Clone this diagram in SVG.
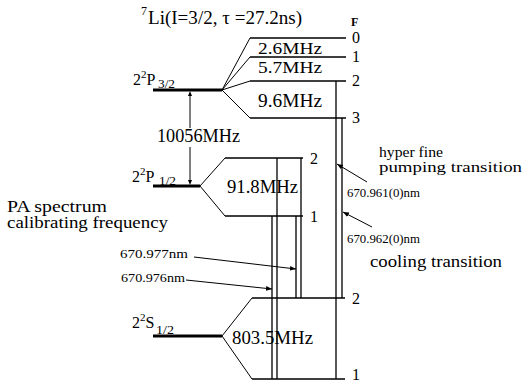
<svg xmlns="http://www.w3.org/2000/svg" width="524" height="383" viewBox="0 0 524 383" font-family="'Liberation Serif','Times New Roman',serif">
<defs>
<marker id="ah" viewBox="0 0 10 10" refX="10" refY="5" markerWidth="6" markerHeight="6" orient="auto" markerUnits="userSpaceOnUse">
<path d="M0,1 L10,5 L0,9 Z" fill="#000"/>
</marker>
<style>
text{font-family:"Liberation Serif","Times New Roman",serif;fill:#000}
.big{font-size:18px}
.hf{font-size:17px}
.mid{font-size:16px}
.sm{font-size:13px}
.sub{font-size:12px}
.thick{stroke:#000;stroke-width:3;fill:none}
.ln{stroke:#000;stroke-width:1.3;fill:none}
.fan{stroke:#000;stroke-width:1;fill:none}
</style>
</defs>
<rect width="524" height="383" fill="#fff"/>

<g id="title">
<text class="sub" x="141" y="15">7</text>
<text class="big" x="148" y="24" textLength="154" lengthAdjust="spacingAndGlyphs">Li(I=3/2, τ =27.2ns)</text>
</g>

<g id="P32">
<line class="thick" x1="153" y1="90" x2="222" y2="90"/>
<text class="mid" x="133" y="85">2<tspan font-size="11" dy="-7">2</tspan><tspan dy="7">P</tspan></text>
<text class="sub" x="158" y="88" textLength="17" lengthAdjust="spacingAndGlyphs">3/2</text>
<path class="fan" d="M222,90 L250,38 M222,90 L250,57 M222,90 L250,81 M222,90 L250,118"/>
<path class="ln" d="M250,38 H346 M250,57 H346 M250,81 H346 M250,118 H346"/>
<text x="351" y="26" font-size="12" font-weight="bold">F</text>
<text class="mid" x="352" y="43">0</text>
<text class="mid" x="352" y="62">1</text>
<text class="mid" x="352" y="86">2</text>
<text class="mid" x="352" y="123">3</text>
<text class="hf" x="258" y="54" textLength="64" lengthAdjust="spacingAndGlyphs">2.6MHz</text>
<text class="hf" x="258" y="73" textLength="64" lengthAdjust="spacingAndGlyphs">5.7MHz</text>
<text class="big" x="258" y="107" textLength="64" lengthAdjust="spacingAndGlyphs">9.6MHz</text>
</g>

<g id="split">
<line class="fan" x1="190" y1="94" x2="190" y2="128"/>
<path d="M190,91 L188,96 L192,96 Z" fill="#000"/>
<line class="fan" x1="190" y1="147" x2="190" y2="182"/>
<path d="M190,185 L188,180 L192,180 Z" fill="#000"/>
<text class="big" x="157" y="142" textLength="83" lengthAdjust="spacingAndGlyphs">10056MHz</text>
</g>

<g id="P12">
<line class="thick" x1="153" y1="186" x2="200" y2="186"/>
<text class="mid" x="132" y="182">2<tspan font-size="11" dy="-7">2</tspan><tspan dy="7">P</tspan></text>
<text class="sub" x="159" y="185" textLength="17" lengthAdjust="spacingAndGlyphs">1/2</text>
<path class="fan" d="M200,186 L225,158 M200,186 L225,216"/>
<path class="ln" d="M225,158 H303 M225,216 H303"/>
<text class="mid" x="310" y="164">2</text>
<text class="mid" x="310" y="222">1</text>
<text class="big" x="227" y="193" textLength="71" lengthAdjust="spacingAndGlyphs">91.8MHz</text>
</g>

<g id="S12">
<line class="thick" x1="153" y1="336" x2="222" y2="336"/>
<text class="mid" x="132" y="328">2<tspan font-size="11" dy="-7">2</tspan><tspan dy="7">S</tspan></text>
<text class="sub" x="156" y="334" textLength="18" lengthAdjust="spacingAndGlyphs">1/2</text>
<path class="fan" d="M222,336 L252,298 M222,336 L252,379"/>
<path class="ln" d="M252,298 H345 M252,379 H345"/>
<text class="mid" x="352" y="304">2</text>
<text class="mid" x="352" y="380">1</text>
<text class="big" x="232" y="344" textLength="81" lengthAdjust="spacingAndGlyphs">803.5MHz</text>
</g>

<g id="connectors">
<path class="ln" d="M272,216 V379 M277,158 V379 M296,216 V298 M301,158 V298 M336,81 V379 M342,118 V298"/>
<line class="fan" x1="194" y1="257" x2="296" y2="269" marker-end="url(#ah)"/>
<line class="fan" x1="186" y1="280" x2="272" y2="289" marker-end="url(#ah)"/>
<line class="fan" x1="367" y1="182" x2="337" y2="164" marker-end="url(#ah)"/>
<line class="fan" x1="372" y1="227" x2="343" y2="212" marker-end="url(#ah)"/>
</g>

<g id="labels">
<text class="mid" x="7" y="212" textLength="100" lengthAdjust="spacingAndGlyphs">PA spectrum</text>
<text class="mid" x="7" y="228" textLength="161" lengthAdjust="spacingAndGlyphs">calibrating frequency</text>
<text class="sm" x="120" y="258" textLength="68" lengthAdjust="spacingAndGlyphs">670.977nm</text>
<text class="sm" x="121" y="282" textLength="64" lengthAdjust="spacingAndGlyphs">670.976nm</text>
<text x="379" y="157" font-size="15" textLength="64" lengthAdjust="spacingAndGlyphs">hyper fine</text>
<text x="379" y="172" font-size="15" textLength="143" lengthAdjust="spacingAndGlyphs">pumping transition</text>
<text class="sm" x="347" y="197" textLength="73" lengthAdjust="spacingAndGlyphs">670.961(0)nm</text>
<text class="sm" x="347" y="243" textLength="73" lengthAdjust="spacingAndGlyphs">670.962(0)nm</text>
<text class="mid" x="370" y="267" textLength="132" lengthAdjust="spacingAndGlyphs">cooling transition</text>
</g>
</svg>
